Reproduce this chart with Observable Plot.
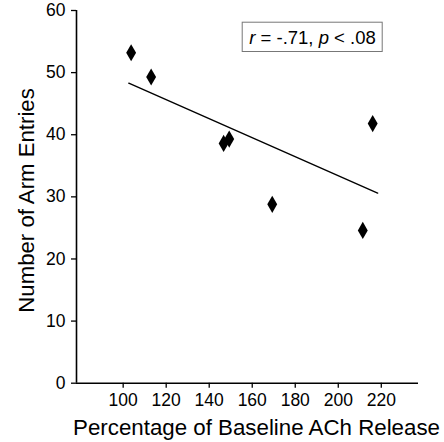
<!DOCTYPE html>
<html>
<head>
<meta charset="utf-8">
<script src="https://cdn.jsdelivr.net/npm/d3@7"></script>
<script src="https://cdn.jsdelivr.net/npm/@observablehq/plot@0.6"></script>
<style>
  html, body { margin: 0; padding: 0; background: #fff; }
  #chart { width: 444px; height: 442px; }
</style>
</head>
<body>
<div id="chart"></div>
<script>
// Data
const achRelease = [103.7, 113.0, 146.7, 149.3, 169.3, 211.4, 216.0];
const armEntries = [53.2, 49.3, 38.6, 39.3, 28.8, 24.6, 41.8];
const fitX = [102.6, 218.3];
const fitY = [48.3, 30.6];
const xTicks = [100, 120, 140, 160, 180, 200, 220];
const yTicks = [0, 10, 20, 30, 40, 50, 60];
const xDomain = [78.3, 237.3];
const yDomain = [0, 60];
const xTitle = "Percentage of Baseline ACh Release";
const yTitle = "Number of Arm Entries";
const statText = "r = -.71, p < .08";

const points = achRelease.map((x, i) => ({x, y: armEntries[i]}));
const fit = fitX.map((x, i) => ({x, y: fitY[i]}));

const font = "'Liberation Sans', Arial, Helvetica, sans-serif";

const chart = Plot.plot({
  width: 444,
  height: 442,
  marginLeft: 76,
  marginRight: 26,
  marginTop: 10,
  marginBottom: 59.3,
  style: {fontFamily: font, fontSize: "17px", color: "#000", background: "#fff", overflow: "visible"},
  x: {domain: xDomain},
  y: {domain: yDomain},
  marks: [
    Plot.axisX({ticks: xTicks, tickSize: 5, tickPadding: 5, label: null, fontSize: 17.5, strokeWidth: 1.3}),
    Plot.axisY({ticks: yTicks, tickSize: 5, tickPadding: 6, label: null, fontSize: 17.5, strokeWidth: 1.3}),
    Plot.ruleX([xDomain[0]], {stroke: "#000", strokeWidth: 1.6}),
    Plot.ruleY([yDomain[0]], {stroke: "#000", strokeWidth: 1.6}),
    Plot.line(fit, {x: "x", y: "y", stroke: "#000", strokeWidth: 1.4}),
    Plot.dot(points, {x: "x", y: "y", symbol: "diamond", r: 5.2, fill: "#000", stroke: "none"}),
    Plot.frame({stroke: "#777", strokeWidth: 1, insetLeft: 165.7, insetRight: 36.3, insetTop: 11.7, insetBottom: 331.7}),
    Plot.text([statText], {frameAnchor: "top-left", text: d => d, textAnchor: "middle", lineAnchor: "middle", dx: 236, dy: 27.4, fontSize: 18.5, fill: "#000"}),
    Plot.text([xTitle], {frameAnchor: "bottom", text: d => d, textAnchor: "middle", lineAnchor: "middle", dx: 9, dy: 45, fontSize: 22.3, fill: "#000"}),
    Plot.text([yTitle], {frameAnchor: "left", text: d => d, textAnchor: "middle", lineAnchor: "middle", rotate: -90, dx: -50, dy: 3.6, fontSize: 22.2, fill: "#000"})
  ]
});

// Italicize r and p in the statistic label
chart.querySelectorAll("text").forEach(t => {
  if (t.textContent === statText) {
    const parts = [["r", true], [" = -.71, ", false], ["p", true], [" < .08", false]];
    t.textContent = "";
    for (const [s, it] of parts) {
      const ts = document.createElementNS("http://www.w3.org/2000/svg", "tspan");
      ts.textContent = s;
      if (it) ts.setAttribute("font-style", "italic");
      t.appendChild(ts);
    }
  }
});

document.getElementById("chart").appendChild(chart);
</script>
</body>
</html>
